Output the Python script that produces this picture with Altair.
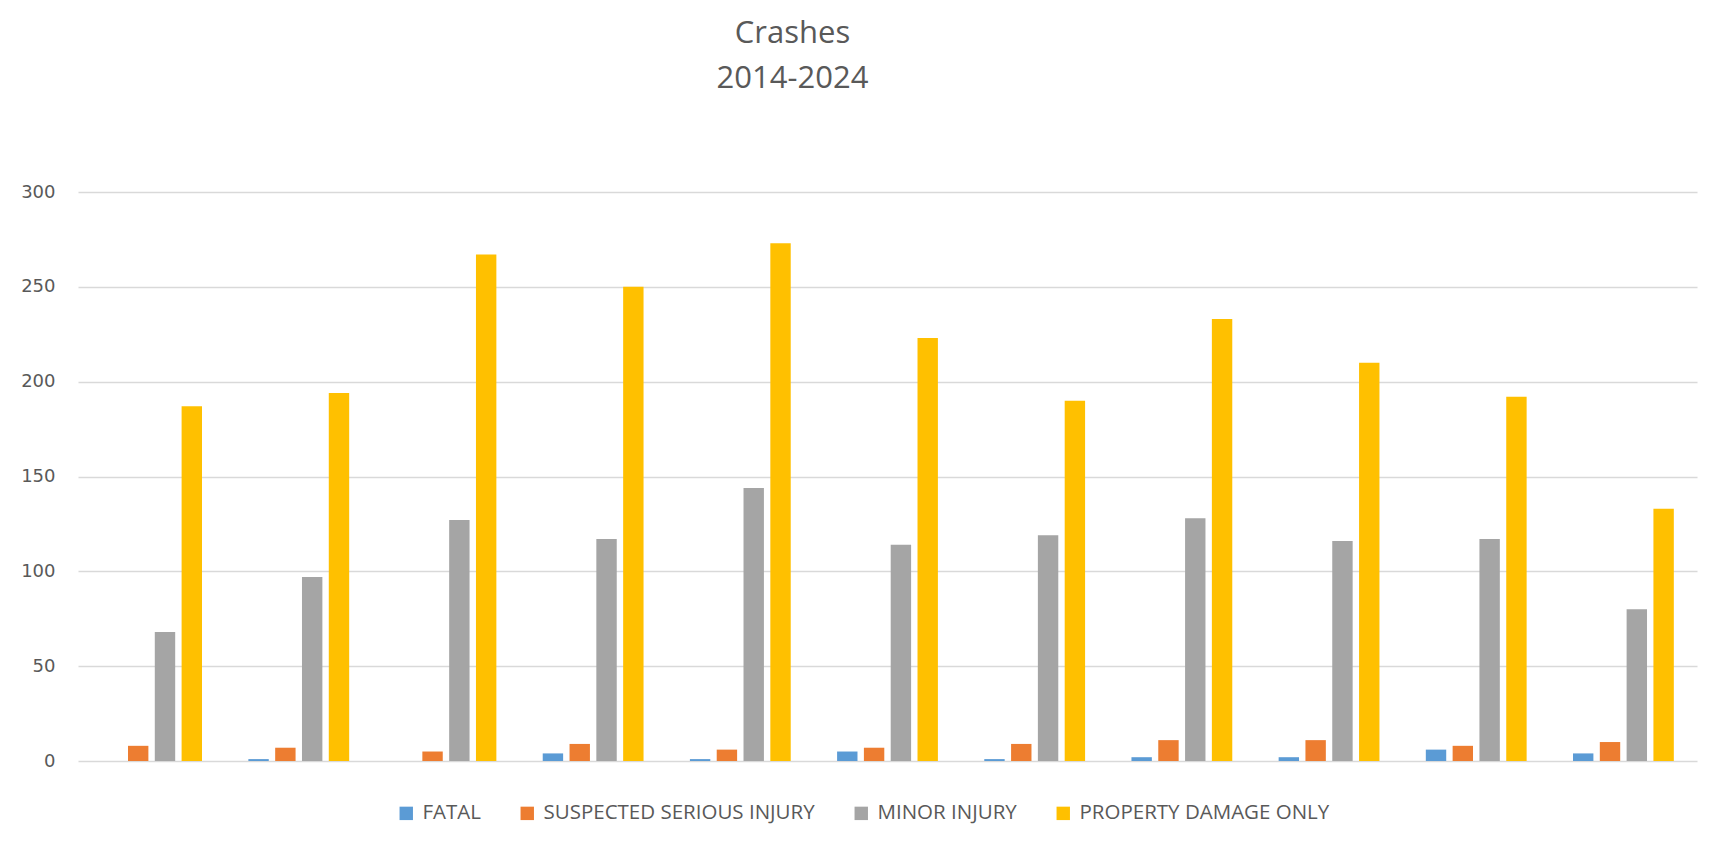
import altair as alt
import pandas as pd

years = [str(y) for y in range(2014, 2025)]
series = ["FATAL", "SUSPECTED SERIOUS INJURY", "MINOR INJURY", "PROPERTY DAMAGE ONLY"]
colors = ["#5B9BD5", "#ED7D31", "#A5A5A5", "#FFC000"]

fatal = [0, 1, 0, 4, 1, 5, 1, 2, 2, 6, 4]
serious = [8, 7, 5, 9, 6, 7, 9, 11, 11, 8, 10]
minor = [68, 97, 127, 117, 144, 114, 119, 128, 116, 117, 80]
pdo = [187, 194, 267, 250, 273, 223, 190, 233, 210, 192, 133]

rows = []
for name, vals in zip(series, [fatal, serious, minor, pdo]):
    for y, v in zip(years, vals):
        rows.append({"year": y, "type": name, "value": v})
df = pd.DataFrame(rows)

FONT = "Open Sans"
GRAY = "#595959"

chart = alt.Chart(df).mark_bar().encode(
    x=alt.X("year:N", sort=years,
            scale=alt.Scale(paddingInner=0.315, paddingOuter=0.1575),
            axis=None),
    xOffset=alt.XOffset("type:N", sort=series,
                        scale=alt.Scale(paddingInner=0.239, paddingOuter=0)),
    y=alt.Y("value:Q",
            scale=alt.Scale(domain=[0, 300], nice=False),
            axis=alt.Axis(values=[0, 50, 100, 150, 200, 250, 300], title=None,
                          domain=False, ticks=False, tickSize=0,
                          labelPadding=23, labelFontSize=18, labelFont="DejaVu Sans",
                          labelColor=GRAY, gridColor="#D9D9D9", gridWidth=1.3)),
    color=alt.Color("type:N", sort=series,
                    scale=alt.Scale(domain=series, range=colors),
                    legend=alt.Legend(title=None, orient="none", direction="horizontal",
                                      legendX=318, legendY=611,
                                      symbolType="square", symbolSize=180,
                                      symbolStrokeWidth=0, symbolOpacity=1,
                                      labelFontSize=20.5, labelFont=FONT,
                                      labelColor=GRAY, labelOffset=6, labelLimit=0,
                                      columnPadding=36)),
).properties(
    width=1619,
    height=569,
    title=alt.TitleParams(text=["Crashes", "2014-2024"], fontSize=31, font=FONT,
                          fontWeight="normal", color=GRAY, lineHeight=45,
                          anchor="middle", dx=-95, offset=88),
    autosize=alt.AutoSizeParams(type="none"),
    padding={"left": 70, "top": 184, "right": 21, "bottom": 82},
).configure(background="white").configure_view(strokeWidth=0, stroke="transparent")

chart.save("out.html", embed_options={"renderer": "svg", "actions": False})
